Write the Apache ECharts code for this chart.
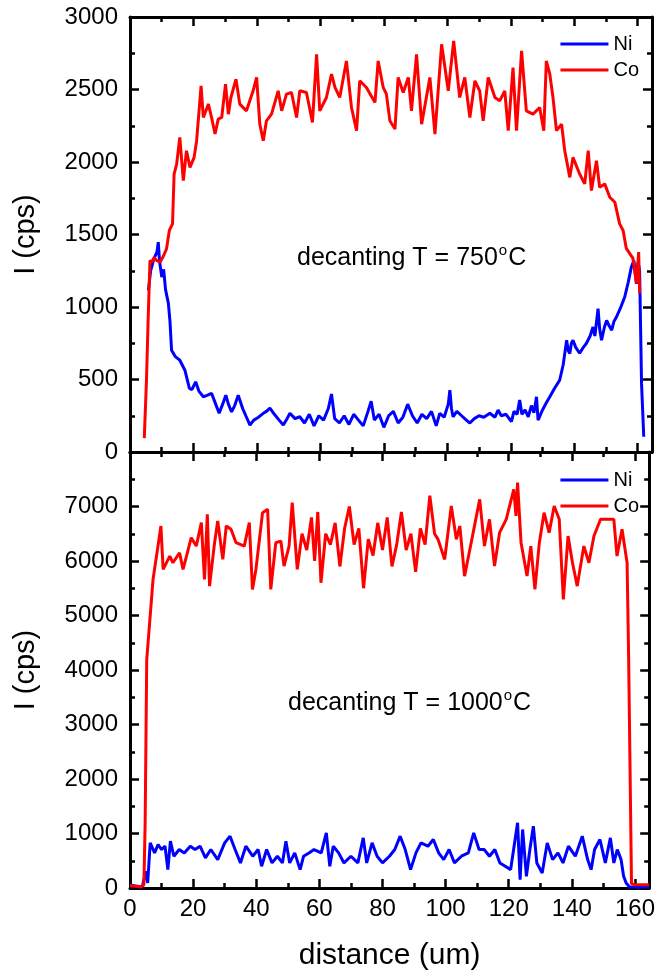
<!DOCTYPE html>
<html><head><meta charset="utf-8">
<script src="https://cdn.jsdelivr.net/npm/echarts@6/dist/echarts.min.js"></script>
<style>html,body{margin:0;padding:0;background:#fff}#c{width:658px;height:975px}</style>
</head><body><div id="c"></div>
<script>
const seriesNames = ['Ni', 'Co'];
const annotations = ['decanting T = 750', 'decanting T = 1000'];
const xMajor = [0, 20, 40, 60, 80, 100, 120, 140, 160];
const xMinor = [10, 30, 50, 70, 90, 110, 130, 150];
const yTopLabels = [0, 500, 1000, 1500, 2000, 2500, 3000];
const yTopMinor = [250, 750, 1250, 1750, 2250, 2750];
const yBotLabels = [0, 1000, 2000, 3000, 4000, 5000, 6000, 7000];
const yBotMajor = [0, 1000, 2000, 3000, 4000, 5000, 6000, 7000, 8000];
const yBotMinor = [500, 1500, 2500, 3500, 4500, 5500, 6500, 7500];

const niTop = [[5.8,1115],[6.5,1250],[7.5,1330],[8.5,1380],[8.9,1447],[9.3,1320],[10,1206],[10.6,1260],[11.2,1120],[12.1,1025],[12.6,900],[13.1,702],[14.2,660],[15.7,633],[17.3,564],[18.7,440],[19.5,430],[20.7,484],[21.7,420],[23.1,381],[24.3,390],[25.7,405],[27,330],[28.1,267],[29.2,330],[30.2,392],[31,330],[32,277],[33,320],[34.1,392],[35.5,300],[36.5,250],[37.8,186],[39,220],[40.5,240],[42,267],[43,280],[44.1,302],[45.5,260],[47,220],[48.3,186],[49.5,230],[50.4,267],[52,230],[53.5,243],[55,200],[56.5,260],[58,180],[59.5,250],[61,220],[62.5,300],[63.5,400],[64.5,230],[66,200],[67.5,250],[69,190],[70.5,260],[72,220],[73.5,180],[75,280],[76,350],[77,220],[78.5,260],[80,170],[81.5,250],[83,280],[84.5,200],[86,240],[87.5,330],[89,250],[90.5,200],[92,260],[93.5,230],[95,280],[96.5,180],[97.6,267],[99,240],[100.3,330],[100.8,427],[101.3,300],[101.8,243],[103,280],[104.5,250],[106,220],[107.1,200],[108.5,230],[110,250],[111.5,240],[113.4,267],[115,240],[116,289],[117,250],[118.5,260],[120.2,209],[121,280],[122,260],[122.8,358],[123.5,260],[124.5,290],[125.5,243],[126.5,320],[127.3,270],[128.1,381],[128.6,220],[130,290],[131.2,340],[132.3,381],[133.8,440],[135.4,495],[136.5,600],[137.6,771],[138.1,700],[138.6,679],[139.1,750],[139.6,771],[140.5,720],[141.7,681],[142.8,720],[143.8,748],[145,800],[145.9,862],[146.5,800],[147.5,989],[148,850],[148.6,771],[149.5,860],[150.2,908],[151,870],[151.8,840],[152.5,900],[153.3,931],[154.5,990],[155.9,1069],[157,1170],[158,1275],[158.8,1320],[159.6,1160],[160.1,1310],[160.6,1250],[161.2,475],[161.9,105]];

const coTop = [[4.5,96],[5.2,500],[5.7,900],[6,1115],[6.3,1320],[7,1310],[7.5,1340],[8.5,1320],[9.5,1310],[10.5,1350],[11.5,1400],[12.4,1528],[13.4,1573],[13.9,1917],[14.7,1986],[15.7,2170],[16.8,1872],[17.8,2078],[18.9,1963],[20.2,2032],[21,2147],[22.4,2525],[23.1,2307],[24.7,2399],[25.7,2307],[26.8,2193],[27.8,2296],[28.9,2307],[30.1,2537],[31,2330],[31.8,2445],[33.4,2571],[34.6,2399],[36.7,2353],[38.8,2491],[39.9,2583],[40.9,2261],[42,2147],[43,2284],[44.6,2330],[46.7,2491],[47.8,2353],[49.3,2468],[50.9,2479],[52.5,2307],[53.5,2491],[55.6,2479],[57.5,2273],[58.8,2743],[59.8,2353],[61.9,2445],[63.5,2606],[64.6,2514],[66.1,2445],[68.2,2697],[69.8,2376],[71.4,2216],[72.4,2560],[74.5,2514],[77.2,2411],[78.2,2697],[79.8,2514],[80.8,2468],[81.9,2284],[83.5,2227],[84.5,2583],[86.1,2479],[87.7,2583],[88.7,2353],[90.3,2743],[91.9,2261],[94.5,2583],[96.1,2193],[98.2,2812],[100.3,2491],[102,2835],[103.9,2445],[105.5,2583],[107.1,2307],[108.7,2560],[110.2,2491],[111.3,2284],[112.9,2583],[115,2445],[116.5,2422],[118.1,2491],[119.2,2216],[120.7,2651],[121.8,2216],[123.4,2766],[124.9,2353],[127,2330],[129.1,2376],[130.4,2216],[131.2,2697],[132.3,2606],[133.3,2445],[134.4,2216],[136,2261],[137,2078],[138.6,1894],[139.6,2032],[141.7,1917],[143.3,1849],[144.4,2078],[145.4,1803],[147,2009],[148,1826],[149.6,1849],[151.2,1757],[152.8,1722],[154.3,1573],[155.4,1528],[156.4,1404],[158.5,1335],[159.6,1163],[160.3,1379],[160.6,1094]];

const niBot = [[0,61],[2.2,30],[3.9,20],[5,307],[5.6,92],[6.4,828],[7.8,644],[8.9,798],[10,706],[11.1,767],[12,337],[12.8,859],[13.9,583],[15.6,706],[17.2,644],[19.1,767],[20.6,706],[22.2,767],[23.9,552],[25.6,706],[27.8,521],[30,828],[31.7,951],[33.3,706],[35,460],[36.7,767],[38.9,583],[40.6,706],[41.7,399],[43.3,706],[45,460],[46.7,583],[48.3,460],[49.4,859],[50.6,460],[52.2,644],[53.9,337],[55,583],[56.7,644],[58.3,706],[60.6,644],[62.2,1012],[63.3,399],[64.4,767],[66.1,644],[67.8,460],[70,583],[72.2,460],[73.9,920],[75,460],[76.7,828],[78.3,583],[80,460],[82.2,583],[83.9,706],[85.6,951],[87.2,706],[88.9,337],[90.6,644],[92.2,828],[94.4,767],[96.1,890],[97.8,644],[99.4,521],[101.1,706],[102.8,460],[105,583],[107.2,644],[108.9,1012],[110.6,706],[112.2,706],[113.9,583],[115.6,706],[117.2,460],[118.9,399],[120.6,337],[121.7,767],[122.8,1196],[123.6,153],[124.4,1074],[125.6,215],[126.7,706],[127.8,1135],[128.9,460],[130.6,276],[132.2,828],[133.9,521],[135.6,644],[137.2,460],[138.9,767],[141.1,583],[143.3,951],[145,521],[146.1,337],[147.2,706],[148.9,890],[150.6,460],[152.2,920],[153.3,460],[154.4,706],[155.6,521],[156.4,215],[157.2,92],[158.3,20],[161.1,20],[164.4,20]];

const coBot = [[0,40],[2,30],[3.5,20],[4.4,60],[4.8,1200],[5.3,4191],[6.3,4926],[7.3,5662],[8.4,6090],[9.8,6642],[10.5,5846],[12.6,6090],[13.6,5968],[15.7,6152],[16.8,5846],[17.9,6090],[19.4,6428],[21,6274],[22.6,6704],[23.6,5662],[24.5,6857],[25.2,5539],[26.8,6336],[27.8,6734],[29.4,6029],[30.5,6642],[32,6581],[33.6,6336],[36.2,6274],[37.8,6704],[38.8,5478],[39.9,5846],[42,6887],[43.6,6949],[44.6,5478],[46.2,6336],[47.8,6366],[48.8,5907],[50.4,6274],[51.4,7072],[53,5846],[54.5,6500],[56,6200],[57.5,6800],[58.5,6000],[59.5,6900],[60.5,5600],[62,6500],[63.5,6300],[65,6700],[66.5,5900],[68,6600],[69.5,7000],[71,6300],[72.5,6600],[74,5500],[75.5,6400],[77,6100],[78.5,6700],[80,6200],[81.5,6800],[83,5900],[84.5,6300],[86,6900],[87.5,6200],[89,6500],[90.5,5800],[92,6600],[93.5,6300],[95,7200],[96.5,6500],[97.6,6397],[99.7,6029],[101.8,7010],[103.4,6397],[104.5,6642],[106,5723],[108.1,6336],[110.8,7132],[112.3,6274],[113.9,6765],[115.5,5907],[117.1,6520],[119.2,6765],[121.6,7316],[122.3,6826],[122.8,7439],[123.9,6336],[125.8,5723],[127,6274],[128.3,5478],[129.7,6336],[131.2,6887],[132.8,6520],[134.4,7010],[136,6765],[137.3,5294],[138.8,6458],[140.2,5968],[141.7,5539],[143.8,6274],[145.4,5968],[147,6458],[149.1,6765],[151.2,6765],[153.3,6765],[154.3,6090],[155.9,6581],[157.5,5968],[158,4191],[158.9,80],[160,60],[164.4,60]];

const XMAX = 164.5;
const FONT = 'Liberation Sans, Arial, sans-serif';
const AXW = 3;
const plain = function (v) { return String(v); };

function xAxes(g, showLabel) {
  const base = {gridIndex: g, type: 'value', min: 0, max: XMAX, splitLine: {show: false},
    axisLine: {show: true, onZero: false, lineStyle: {color: '#000', width: AXW}}};
  const res = [];
  res.push(Object.assign({}, base, {position: 'bottom',
    axisTick: {show: true, inside: true, length: 9, customValues: xMajor, lineStyle: {color: '#000', width: 2.5}},
    axisLabel: {show: showLabel, customValues: xMajor, formatter: plain, fontSize: 24, color: '#000', fontFamily: FONT, margin: 9},
    name: showLabel ? 'distance (um)' : '', nameLocation: 'middle', nameGap: 53,
    nameTextStyle: {fontSize: 30, color: '#000', fontFamily: FONT}}));
  res.push(Object.assign({}, base, {position: 'bottom', axisLine: {show: false, onZero: false},
    axisTick: {show: true, inside: true, length: 5, customValues: xMinor, lineStyle: {color: '#000', width: 2.5}},
    axisLabel: {show: false}}));
  res.push(Object.assign({}, base, {position: 'top',
    axisTick: {show: true, inside: true, length: 9, customValues: xMajor, lineStyle: {color: '#000', width: 2.5}},
    axisLabel: {show: false}}));
  res.push(Object.assign({}, base, {position: 'top', axisLine: {show: false, onZero: false},
    axisTick: {show: true, inside: true, length: 5, customValues: xMinor, lineStyle: {color: '#000', width: 2.5}},
    axisLabel: {show: false}}));
  return res;
}
function yAxes(g, max, major, minor, labels) {
  const base = {gridIndex: g, type: 'value', min: 0, max: max, splitLine: {show: false},
    axisLine: {show: true, onZero: false, lineStyle: {color: '#000', width: AXW}}};
  const res = [];
  res.push(Object.assign({}, base, {position: 'left',
    axisTick: {show: true, inside: true, length: 9, customValues: major, lineStyle: {color: '#000', width: 2.5}},
    axisLabel: {show: true, customValues: labels, formatter: plain, fontSize: 24, color: '#000', fontFamily: FONT, margin: 12},
    name: 'I (cps)', nameLocation: 'middle', nameGap: 90,
    nameTextStyle: {fontSize: 29, color: '#000', fontFamily: FONT}}));
  res.push(Object.assign({}, base, {position: 'left', axisLine: {show: false, onZero: false},
    axisTick: {show: true, inside: true, length: 5, customValues: minor, lineStyle: {color: '#000', width: 2.5}},
    axisLabel: {show: false}}));
  res.push(Object.assign({}, base, {position: 'right',
    axisTick: {show: true, inside: true, length: 9, customValues: major, lineStyle: {color: '#000', width: 2.5}},
    axisLabel: {show: false}}));
  res.push(Object.assign({}, base, {position: 'right', axisLine: {show: false, onZero: false},
    axisTick: {show: true, inside: true, length: 5, customValues: minor, lineStyle: {color: '#000', width: 2.5}},
    axisLabel: {show: false}}));
  return res;
}

const xAxisList = xAxes(0, false).concat(xAxes(1, true));
const yAxisList = yAxes(0, 3000, yTopLabels, yTopMinor, yTopLabels).concat(yAxes(1, 8000, yBotMajor, yBotMinor, yBotLabels));

function line(name, data, color, xi, yi) {
  return {name: name, type: 'line', xAxisIndex: xi, yAxisIndex: yi, data: data,
    showSymbol: false, symbol: 'none', animation: false,
    lineStyle: {color: color, width: 3}, itemStyle: {color: color}};
}

const legendBase = {orient: 'vertical', right: 14, icon: 'rect', itemWidth: 48, itemHeight: 3, itemGap: 6,
  textStyle: {fontSize: 20, color: '#000', fontFamily: FONT}, data: seriesNames};

function annot(txt, left, top) {
  return {text: '{a|' + txt + '}{s|o}{a|C}', left: left, top: top,
    textStyle: {fontWeight: 'normal', rich: {a: {fontSize: 25, fontWeight: 'normal', color: '#000', fontFamily: FONT, lineHeight: 30},
      s: {fontSize: 15, fontWeight: 'normal', color: '#000', fontFamily: FONT, verticalAlign: 'top', lineHeight: 30, padding: [0, 1, 12, 1]}}}};
}

const option = {
  backgroundColor: '#fff',
  animation: false,
  grid: [
    {left: 130, top: 17, width: 522, height: 435},
    {left: 130, top: 452, width: 522, height: 436}
  ],
  xAxis: xAxisList,
  yAxis: yAxisList,
  legend: [
    Object.assign({}, legendBase, {top: 29}),
    Object.assign({}, legendBase, {top: 465})
  ],
  title: [annot(annotations[0], 292, 238), annot(annotations[1], 283, 683)],
  series: [
    line(seriesNames[0], niTop, '#0000ff', 0, 0),
    line(seriesNames[1], coTop, '#ff0000', 0, 0),
    line(seriesNames[0], niBot, '#0000ff', 4, 4),
    line(seriesNames[1], coBot, '#ff0000', 4, 4)
  ]
};
const chart = echarts.init(document.getElementById('c'), null, {renderer: 'canvas'});
chart.setOption(option);
</script></body></html>
